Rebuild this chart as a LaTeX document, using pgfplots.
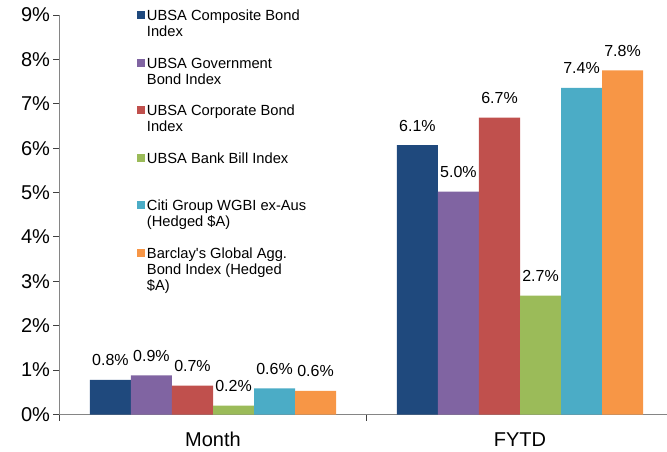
\documentclass[border=0pt]{standalone}
\usepackage{fontspec}
\setmainfont{Liberation Sans}
\usepackage{pgfplots}
\pgfplotsset{compat=1.18}
\definecolor{c1}{HTML}{1F497D}
\definecolor{c2}{HTML}{8064A2}
\definecolor{c3}{HTML}{C0504D}
\definecolor{c4}{HTML}{9BBB59}
\definecolor{c5}{HTML}{4BACC6}
\definecolor{c6}{HTML}{F79646}
\definecolor{axgray}{HTML}{858585}
\begin{document}
\begin{tikzpicture}
\path[use as bounding box] (-59.5pt,-36.5pt) rectangle (607.5pt,414.5pt);
\begin{axis}[
    scale only axis, width=614pt, height=399.5pt,
    at={(0pt,0pt)}, anchor=south west,
    xmin=-0.5, xmax=1.5, ymin=0, ymax=9,
    ybar, bar width=0.1336,
    axis x line=bottom, axis y line=left,
    axis line style={-, draw=axgray, line width=1.2pt},
    tick align=outside, major tick length=6pt,
    tick style={draw=black!75, line width=1pt},
    ytick={0,...,9},
    yticklabel={\pgfmathprintnumber{\tick}\%},
    /pgf/number format/assume math mode=true,
    xtick={-0.5,0.5,1.5}, xticklabels={},
    extra x ticks={0,1}, extra x tick labels={Month,FYTD},
    extra x tick style={major tick length=0pt, tick style={draw=none}},
    xticklabel style={anchor=base, yshift=-32pt},
    ticklabel style={font=\fontsize{20pt}{24pt}\selectfont},
    point meta=explicit symbolic,
    nodes near coords,
    every node near coord/.append style={font=\fontsize{16pt}{19pt}\selectfont, anchor=base, yshift=14pt},
    legend image code/.code={\fill[#1] (0pt,1.4pt) rectangle (8pt,9.4pt);},
    legend style={at={(0.1262,1.0133)}, anchor=north west, draw=none, fill=none,
      inner sep=0pt, outer sep=0pt, row sep=0pt, column sep=2pt,
      font=\fontsize{14.7pt}{16pt}\selectfont,
      cells={anchor=base west},
      nodes={inner sep=0pt, text height=11pt, text depth=36.5pt}},
  ]
\addplot[fill=c1, draw=none, bar shift=-0.334] coordinates {(0,0.78) [0.8\%] (1,6.07) [6.1\%]};
\addplot[fill=c2, draw=none, bar shift=-0.2004] coordinates {(0,0.88) [0.9\%] (1,5.02) [5.0\%]};
\addplot[fill=c3, draw=none, bar shift=-0.0668] coordinates {(0,0.65) [0.7\%] (1,6.69) [6.7\%]};
\addplot[fill=c4, draw=none, bar shift=0.0668] coordinates {(0,0.20) [0.2\%] (1,2.68) [2.7\%]};
\addplot[fill=c5, draw=none, bar shift=0.2004] coordinates {(0,0.59) [0.6\%] (1,7.36) [7.4\%]};
\addplot[fill=c6, draw=none, bar shift=0.334] coordinates {(0,0.53) [0.6\%] (1,7.75) [7.8\%]};
\legend{\parbox[t]{200pt}{UBSA Composite Bond\\Index},
  \parbox[t]{200pt}{UBSA Government\\Bond Index},
  \parbox[t]{200pt}{UBSA Corporate Bond\\Index},
  \parbox[t]{200pt}{UBSA Bank Bill Index},
  \parbox[t]{200pt}{Citi Group WGBI ex-Aus\\(Hedged \$A)},
  \parbox[t]{200pt}{Barclay\textquotesingle s Global Agg.\\Bond Index (Hedged\\\$A)}}
\end{axis}
\end{tikzpicture}
\end{document}
